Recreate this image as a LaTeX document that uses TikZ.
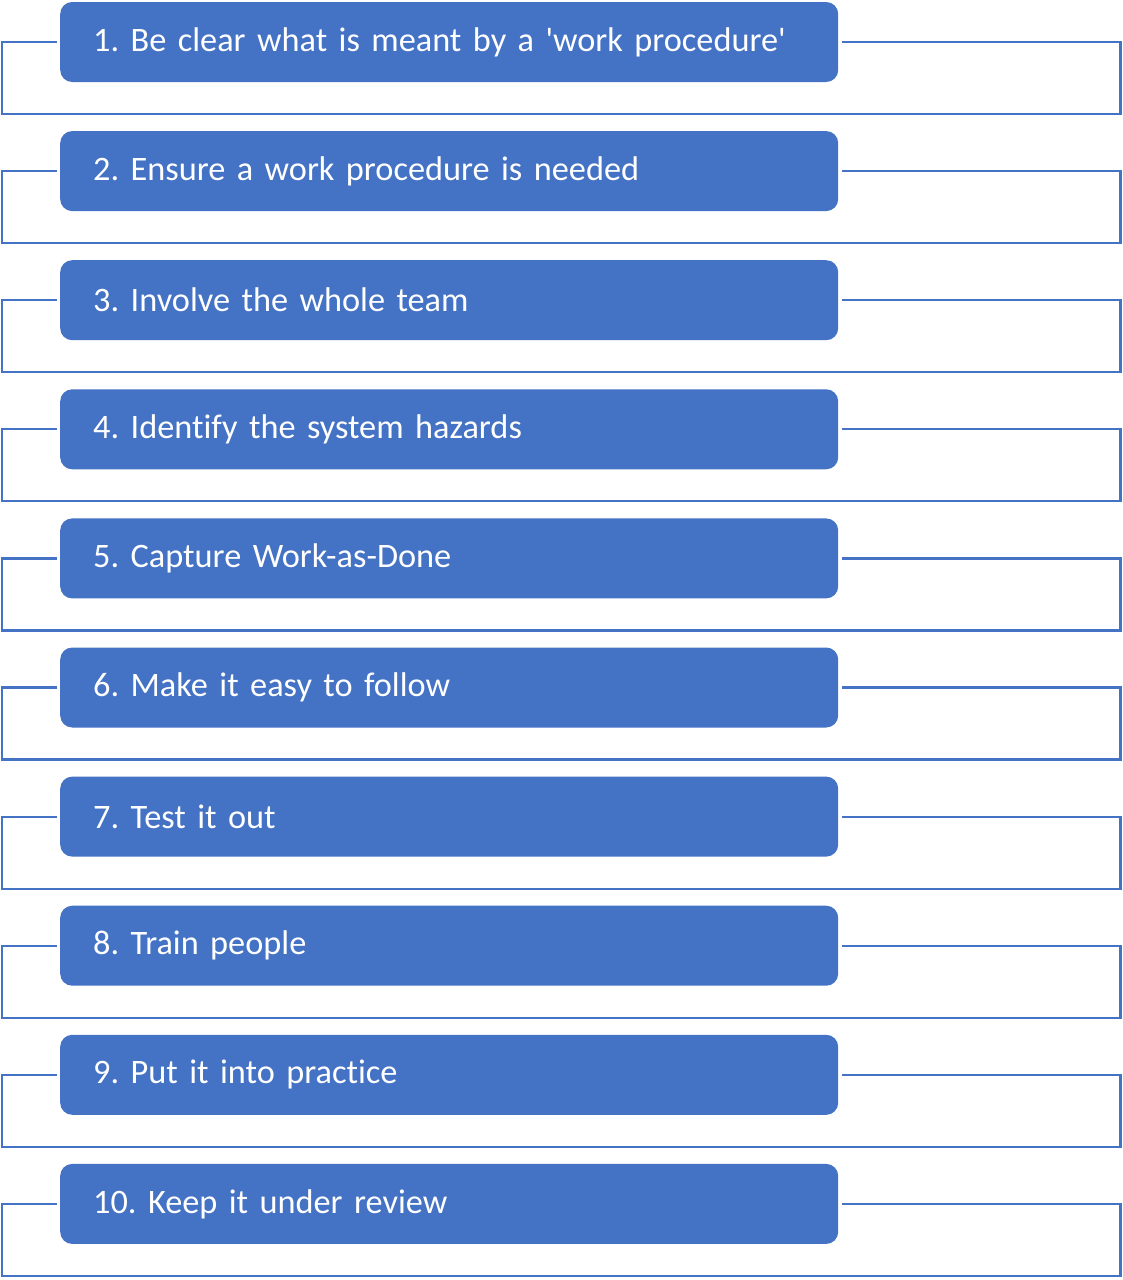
\documentclass[tikz,border=0pt]{standalone}
\usepackage{fontspec}
\setmainfont{Carlito}[Ligatures=NoCommon]
\usepackage{xcolor}
\usetikzlibrary{positioning,calc}
\definecolor{stepblue}{HTML}{4472C4}
\frenchspacing

\begin{document}
\begin{tikzpicture}[x=1pt, y=1pt,
    stepbox/.style={rectangle, fill=stepblue, rounded corners=12pt, minimum height=80pt,
        text width=712pt, inner xsep=33pt, inner ysep=0pt, align=left,
        text=white, font=\fontsize{34.3}{40}\selectfont},
    frame/.style={draw=stepblue, line width=2.2pt}]
    \useasboundingbox (0,0) rectangle (1123,-1280);

    % Steps with their open frames
    \foreach \i/\t in {1/{1. Be clear what is meant by a \textquotesingle work procedure\textquotesingle},
        2/{2. Ensure a work procedure is needed},
        3/{3. Involve the whole team},
        4/{4. Identify the system hazards},
        5/{5. Capture Work-as-Done},
        6/{6. Make it easy to follow},
        7/{7. Test it out},
        8/{8. Train people},
        9/{9. Put it into practice},
        10/{10. Keep it under review}} {
        \node[stepbox, anchor=west] (s\i) at (60,{-42-129.1*(\i-1)}) {\t};
        \draw[frame] ([xshift=-3pt]s\i.west) -- ($(s\i.west)+(-58,0)$)
            -- ($(s\i.west)+(-58,-72)$) -- ($(s\i.east)+(282,-72)$)
            -- ($(s\i.east)+(282,0)$) -- ([xshift=4pt]s\i.east);
    }
\end{tikzpicture}
\end{document}
